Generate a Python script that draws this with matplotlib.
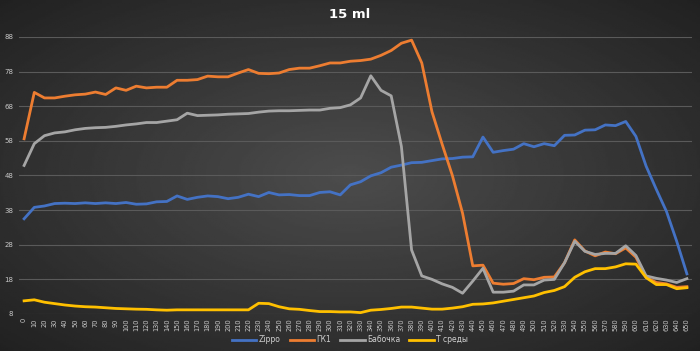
import numpy as np
import matplotlib.pyplot as plt

# time, s
x = list(range(0, 660, 10))

zippo = [35.5, 38.8, 39.2, 39.9, 40.0, 39.9, 40.1, 39.9, 40.1, 39.9,
         40.2, 39.7, 39.8, 40.4, 40.5, 42.1, 41.1, 41.7, 42.1, 41.9,
         41.3, 41.7, 42.6, 41.9, 43.1, 42.4, 42.5, 42.2, 42.2, 43.1,
         43.3, 42.4, 45.3, 46.2, 47.9, 48.8, 50.4, 51.0, 51.7, 51.8,
         52.3, 52.8, 52.9, 53.3, 53.4, 59.1, 54.7, 55.2, 55.6, 57.2,
         56.3, 57.2, 56.6, 59.6, 59.7, 61.1, 61.2, 62.6, 62.4, 63.6,
         59.3, 50.7, 44.0, 37.6, 29.0, 19.6]

gk1 = [58.6, 72.0, 70.4, 70.4, 70.9, 71.3, 71.5, 72.1, 71.4, 73.3,
       72.6, 73.8, 73.3, 73.5, 73.5, 75.5, 75.5, 75.7, 76.7, 76.5,
       76.5, 77.6, 78.6, 77.5, 77.4, 77.6, 78.6, 79.0, 79.0, 79.7,
       80.5, 80.5, 81.0, 81.2, 81.6, 82.7, 84.1, 86.2, 87.1, 80.5,
       66.4, 57.0, 48.0, 37.1, 21.9, 22.1, 16.9, 16.6, 16.8, 18.2,
       17.9, 18.6, 18.7, 22.8, 29.4, 26.2, 24.8, 25.9, 25.4, 27.1,
       24.4, 18.6, 17.1, 16.7, 15.7, 15.9]

babochka = [50.9, 57.2, 59.5, 60.3, 60.6, 61.2, 61.6, 61.8, 61.9, 62.2,
            62.6, 62.9, 63.3, 63.3, 63.7, 64.1, 66.0, 65.3, 65.4, 65.5,
            65.7, 65.8, 65.9, 66.3, 66.6, 66.7, 66.7, 66.8, 66.9, 66.9,
            67.4, 67.6, 68.4, 70.4, 76.8, 72.6, 71.0, 56.4, 26.5, 19.0,
            18.0, 16.7, 15.7, 14.0, 17.5, 21.2, 14.3, 14.3, 14.6, 16.4,
            16.4, 17.8, 18.0, 22.8, 29.0, 26.1, 25.2, 25.5, 25.5, 27.7,
            24.9, 19.0, 18.3, 17.8, 17.1, 18.2]

t_sredy = [11.8, 12.1, 11.4, 11.0, 10.6, 10.3, 10.1, 10.0, 9.8, 9.6,
           9.5, 9.4, 9.35, 9.2, 9.1, 9.2, 9.2, 9.2, 9.2, 9.2,
           9.2, 9.2, 9.2, 11.1, 11.0, 10.1, 9.5, 9.35, 9.0, 8.7,
           8.7, 8.6, 8.6, 8.4, 9.1, 9.3, 9.6, 10.0, 10.0, 9.7,
           9.4, 9.4, 9.7, 10.1, 10.8, 10.9, 11.2, 11.7, 12.2, 12.7,
           13.2, 14.2, 14.8, 15.9, 18.6, 20.2, 21.1, 21.1, 21.6, 22.5,
           22.4, 18.5, 16.5, 16.5, 15.3, 15.6]

series = [("Zippo", zippo, "#4472C4"),
          ("ГК1", gk1, "#ED7D31"),
          ("Бабочка", babochka, "#A5A5A5"),
          ("Т среды", t_sredy, "#FFC000")]

plt.rcParams['font.family'] = ['DejaVu Sans']

fig = plt.figure(figsize=(7, 3.51), dpi=100)

# dark radial background like the Excel style
bg = fig.add_axes([0, 0, 1, 1], zorder=-10)
yy, xx = np.mgrid[-1:1:200j, -1:1:400j]
r = np.sqrt(xx ** 2 + yy ** 2) / np.sqrt(2)
bg.imshow(0.30 - 0.17 * r, cmap='gray', vmin=0, vmax=1, aspect='auto',
          extent=[0, 1, 0, 1])
bg.axis('off')

ax = fig.add_axes([19 / 700, 37 / 351, 673 / 700, 277 / 351])
ax.patch.set_alpha(0)

for name, vals, col in series:
    ax.plot(x, vals, color=col, lw=2, label=name, solid_joinstyle='round')

ax.set_xlim(-5, 655)
ax.set_ylim(8, 88)
ax.set_yticks(range(8, 89, 10))
ax.set_xticks(x)
ax.set_xticklabels([str(v) for v in x], rotation=90)
ax.tick_params(axis='x', labelsize=4.8, colors='#c8c8c8', length=0, pad=3)
ax.tick_params(axis='y', labelsize=5, colors='#c8c8c8', length=0, pad=4)
ax.grid(axis='y', color='#5a5a5a', lw=0.8)
ax.set_axisbelow(True)
for s in ax.spines.values():
    s.set_visible(False)

fig.text(0.5, 1 - 15 / 351, "15 ml", color='white', fontsize=9.5,
         fontweight='bold', ha='center', va='center')

fig.legend(loc='center', bbox_to_anchor=(0.5, 1 - 340 / 351), ncol=4,
           frameon=False, fontsize=5.5, labelcolor='#d0d0d0',
           handlelength=3.2, handletextpad=0.3, columnspacing=1.2)

fig.savefig('out.png', dpi=100, facecolor='#333333')
